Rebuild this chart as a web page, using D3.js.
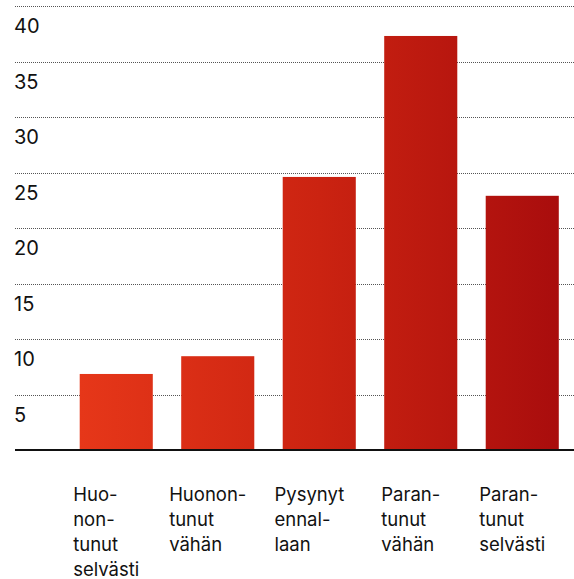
<!DOCTYPE html>
<html><head><meta charset="utf-8">
<script src="https://cdn.jsdelivr.net/npm/d3@7/dist/d3.min.js"></script>
<style>body{margin:0;background:#fff}svg{display:block}text{font-family:Inter,"Noto Sans",sans-serif;fill:#111}</style>
</head><body>
<script>
const categories = [
  ["Huo-","non-","tunut","selvästi"],
  ["Huonon-","tunut","vähän"],
  ["Pysynyt","ennal-","laan"],
  ["Paran-","tunut","vähän"],
  ["Paran-","tunut","selvästi"]
];
const values = [6.85, 8.45, 24.6, 37.3, 22.9];
const yTicks = [5, 10, 15, 20, 25, 30, 35, 40];

const W = 574, H = 579;
const svg = d3.select("body").append("svg").attr("width", W).attr("height", H);

const x = d3.scaleBand().domain(d3.range(values.length)).range([65.5, 573]).paddingInner(0.28).paddingOuter(0.14);
const y = d3.scaleLinear().domain([0, 40]).range([450, 6]);

const defs = svg.append("defs");
const grad = defs.append("linearGradient").attr("id","g").attr("gradientUnits","userSpaceOnUse")
  .attr("x1", x(0)).attr("x2", x(values.length-1)+x.bandwidth()).attr("y1",0).attr("y2",0);
grad.append("stop").attr("offset","0").attr("stop-color","#e63719");
grad.append("stop").attr("offset","0.5").attr("stop-color","#cb2311");
grad.append("stop").attr("offset","1").attr("stop-color","#a90d0d");

// gridlines
svg.append("g").selectAll("line").data(yTicks).join("line")
  .attr("x1", 15).attr("x2", W).attr("y1", d => Math.round(y(d)) + 0.5).attr("y2", d => Math.round(y(d)) + 0.5)
  .attr("stroke", "#555").attr("stroke-dasharray", "1,1");

// tick labels
svg.append("g").selectAll("text").data(yTicks).join("text")
  .attr("x", 14).attr("y", d => y(d) + 27).attr("font-size", 20).text(d => d);

// bars
svg.append("g").selectAll("rect").data(values).join("rect")
  .attr("x", (d,i) => x(i)).attr("width", x.bandwidth())
  .attr("y", d => y(d)).attr("height", d => y(0) - y(d))
  .attr("fill", "url(#g)");

// baseline
svg.append("line").attr("x1", 15).attr("x2", W).attr("y1", y(0)).attr("y2", y(0))
  .attr("stroke", "#111").attr("stroke-width", 2);

// category labels
const lab = svg.append("g").selectAll("text").data(categories).join("text")
  .attr("font-size", 18.5);
lab.selectAll("tspan").data(d => d).join("tspan")
  .attr("dy", (d,i) => i === 0 ? 0 : 25).text(d => d);
lab.each(function(d, i) {
  const t = d3.select(this);
  let maxw = 0;
  t.selectAll("tspan").each(function(){ maxw = Math.max(maxw, this.getComputedTextLength()); });
  const cx = x(i) + x.bandwidth()/2 - 10;
  t.attr("y", 501).selectAll("tspan").attr("x", cx - maxw/2);
});
</script>
</body></html>
